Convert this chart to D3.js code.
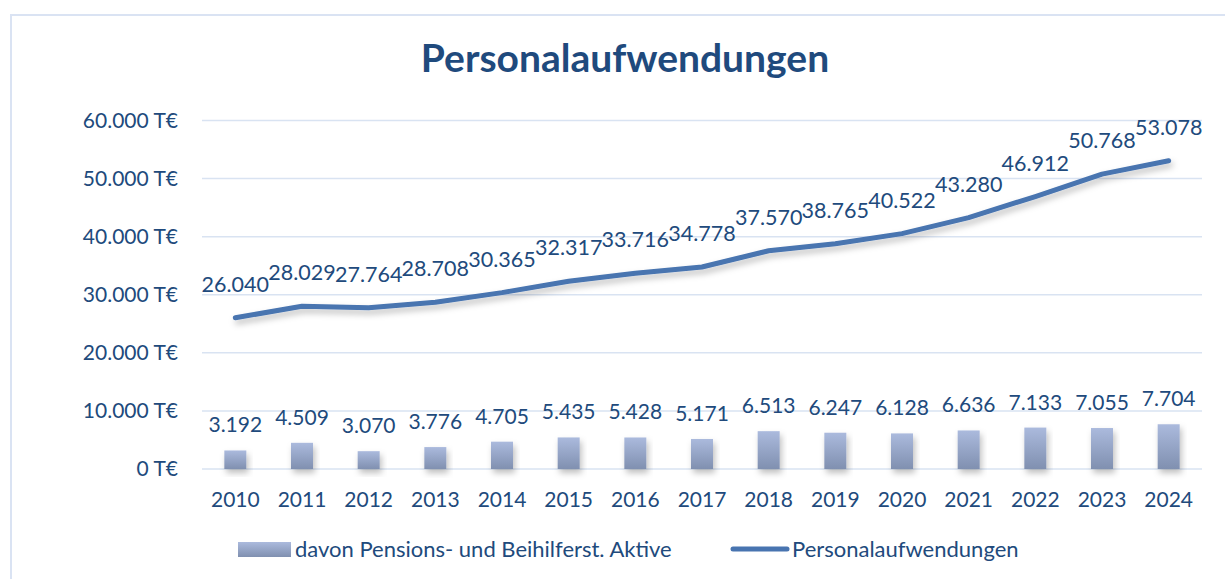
<!DOCTYPE html>
<html>
<head>
<meta charset="utf-8">
<script src="https://cdn.jsdelivr.net/npm/d3@7"></script>
<style>
  body { margin: 0; background: #fff; }
  svg { display: block; font-family: Lato, "Open Sans", sans-serif; }
</style>
</head>
<body>
<script>
var years = ["2010","2011","2012","2013","2014","2015","2016","2017","2018","2019","2020","2021","2022","2023","2024"];
var personal = [26040, 28029, 27764, 28708, 30365, 32317, 33716, 34778, 37570, 38765, 40522, 43280, 46912, 50768, 53078];
var pension = [3192, 4509, 3070, 3776, 4705, 5435, 5428, 5171, 6513, 6247, 6128, 6636, 7133, 7055, 7704];
var yTicks = [0, 10000, 20000, 30000, 40000, 50000, 60000];
var title = "Personalaufwendungen";
var legendBar = "davon Pensions- und Beihilferst. Aktive";
var legendLine = "Personalaufwendungen";

var w = 1225, h = 579;
var textColor = "#214a7c";
var de = d3.formatLocale({decimal: ",", thousands: ".", grouping: [3], currency: ["", " €"]});
var fmt = de.format(",d");

var svg = d3.select("body").append("svg")
    .attr("width", w)
    .attr("height", h);

var defs = svg.append("defs");
var grad = defs.append("linearGradient").attr("id", "barGrad")
    .attr("x1", 0).attr("y1", 0).attr("x2", 0).attr("y2", 1);
grad.append("stop").attr("offset", "0%").attr("stop-color", "#abbadd");
grad.append("stop").attr("offset", "100%").attr("stop-color", "#8090b0");

var shadow = defs.append("filter").attr("id", "shadow")
    .attr("x", "-30%").attr("y", "-20%").attr("width", "160%").attr("height", "160%");
shadow.append("feDropShadow").attr("dx", 2).attr("dy", 4).attr("stdDeviation", 3)
    .attr("flood-color", "#000").attr("flood-opacity", 0.25);

// outer frame
svg.append("rect")
    .attr("x", 11).attr("y", 15).attr("width", w + 20).attr("height", h + 20)
    .attr("fill", "none").attr("stroke", "#dae3f3").attr("stroke-width", 2);

// scales
var x = d3.scaleBand().domain(years).range([202, 1202]);
var y = d3.scaleLinear().domain([0, 60000]).range([469, 120.5]);

// gridlines
svg.append("g").selectAll("line")
    .data(yTicks)
    .enter().append("line")
    .attr("x1", 202).attr("x2", 1202)
    .attr("y1", function(d) { return y(d); })
    .attr("y2", function(d) { return y(d); })
    .attr("stroke", "#d9e3f2").attr("stroke-width", 1.5);

// y axis labels
svg.append("g").selectAll("text")
    .data(yTicks)
    .enter().append("text")
    .attr("x", 178)
    .attr("y", function(d) { return y(d); })
    .attr("dy", "0.35em")
    .attr("text-anchor", "end")
    .attr("font-size", 21)
    .attr("fill", textColor)
    .text(function(d) { return fmt(d) + " T€"; });

// x axis labels
svg.append("g").selectAll("text")
    .data(years)
    .enter().append("text")
    .attr("x", function(d) { return x(d) + x.bandwidth() / 2; })
    .attr("y", 507)
    .attr("text-anchor", "middle")
    .attr("font-size", 21)
    .attr("fill", textColor)
    .text(function(d) { return d; });

// bars
var barW = 22;
svg.append("g").selectAll("rect")
    .data(pension)
    .enter().append("rect")
    .attr("x", function(d, i) { return x(years[i]) + x.bandwidth() / 2 - barW / 2; })
    .attr("y", function(d) { return y(d); })
    .attr("width", barW)
    .attr("height", function(d) { return y(0) - y(d); })
    .attr("fill", "url(#barGrad)")
    .attr("filter", "url(#shadow)");

svg.append("g").selectAll("text")
    .data(pension)
    .enter().append("text")
    .attr("x", function(d, i) { return x(years[i]) + x.bandwidth() / 2; })
    .attr("y", function(d) { return y(d) - 18; })
    .attr("text-anchor", "middle")
    .attr("font-size", 21)
    .attr("fill", textColor)
    .text(function(d) { return fmt(d); });

// line
var line = d3.line()
    .x(function(d, i) { return x(years[i]) + x.bandwidth() / 2; })
    .y(function(d) { return y(d); });

svg.append("path")
    .datum(personal)
    .attr("d", line)
    .attr("fill", "none")
    .attr("stroke", "#4874b0")
    .attr("stroke-width", 5)
    .attr("stroke-linecap", "round")
    .attr("stroke-linejoin", "round")
    .attr("filter", "url(#shadow)");

svg.append("g").selectAll("text")
    .data(personal)
    .enter().append("text")
    .attr("x", function(d, i) { return x(years[i]) + x.bandwidth() / 2; })
    .attr("y", function(d) { return y(d) - 26; })
    .attr("text-anchor", "middle")
    .attr("font-size", 21.5)
    .attr("fill", textColor)
    .text(function(d) { return fmt(d); });

// title
svg.append("text")
    .attr("x", 625).attr("y", 72)
    .attr("text-anchor", "middle")
    .attr("font-size", 39)
    .attr("font-weight", "bold")
    .attr("fill", "#1f4a7d")
    .text(title);

// legend
var lg = svg.append("g");
lg.append("rect")
    .attr("x", 238).attr("y", 542).attr("width", 53).attr("height", 15)
    .attr("fill", "url(#barGrad)");
lg.append("text")
    .attr("x", 295).attr("y", 549.5).attr("dy", "0.35em")
    .attr("font-size", 22)
    .attr("fill", textColor)
    .text(legendBar);
lg.append("line")
    .attr("x1", 733).attr("x2", 787).attr("y1", 549).attr("y2", 549)
    .attr("stroke", "#4874b0").attr("stroke-width", 5)
    .attr("stroke-linecap", "round");
lg.append("text")
    .attr("x", 792).attr("y", 549.5).attr("dy", "0.35em")
    .attr("font-size", 22)
    .attr("fill", textColor)
    .text(legendLine);
</script>
</body>
</html>
